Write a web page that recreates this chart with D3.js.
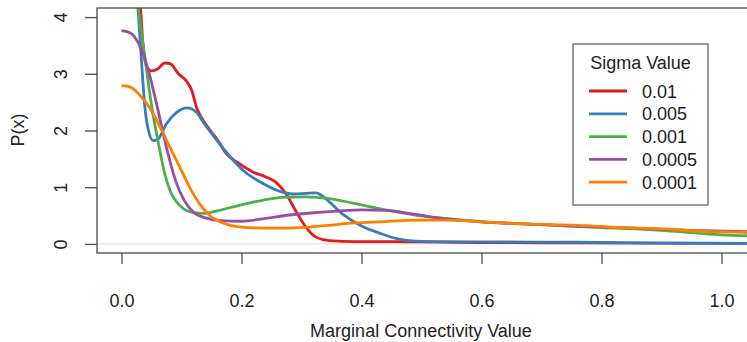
<!DOCTYPE html>
<html>
<head>
<meta charset="utf-8">
<script src="https://cdn.jsdelivr.net/npm/d3@7"></script>
<style>
  body { margin: 0; background: #fff; }
  svg { display: block; font-family: "Liberation Sans", Arial, Helvetica, sans-serif; }
</style>
</head>
<body>
<div id="chart"></div>
<script>
// density estimates of marginal connectivity, one curve per sigma value
const sigmaLabels = ["0.01", "0.005", "0.001", "0.0005", "0.0001"];
const sigmaColors = ["#E41A1C", "#377EB8", "#4DAF4A", "#984EA3", "#FF7F00"];

const sigma01 = [[0, 6.0], [0.03, 4.4], [0.036, 3.5], [0.042, 3.12], [0.05, 3.05], [0.061, 3.09],
  [0.072, 3.19], [0.081, 3.18], [0.095, 3.0], [0.109, 2.86], [0.117, 2.71], [0.125, 2.41],
  [0.131, 2.27], [0.148, 2.0], [0.161, 1.82], [0.174, 1.6], [0.196, 1.42], [0.219, 1.27],
  [0.241, 1.18], [0.257, 1.09], [0.274, 0.89], [0.29, 0.59], [0.307, 0.3], [0.324, 0.12],
  [0.346, 0.06], [0.39, 0.04], [0.45, 0.04], [0.5, 0.035], [0.6, 0.025], [0.75, 0.02], [1.06, 0.01]];

const sigma005 = [[0, 6.5], [0.026, 4.4], [0.034, 3.12], [0.039, 2.41], [0.045, 2.0], [0.053, 1.82],
  [0.061, 1.85], [0.075, 2.12], [0.092, 2.32], [0.109, 2.4], [0.125, 2.32], [0.136, 2.15],
  [0.158, 1.84], [0.18, 1.55], [0.208, 1.25], [0.235, 1.07], [0.263, 0.93], [0.285, 0.88],
  [0.307, 0.89], [0.324, 0.9], [0.34, 0.8], [0.368, 0.53], [0.401, 0.31], [0.43, 0.19],
  [0.46, 0.09], [0.49, 0.05], [0.6, 0.035], [0.76, 0.03], [0.9, 0.015], [1.06, 0.01]];

const sigma001 = [[0, 7.0], [0.02, 5.3], [0.028, 4.2], [0.039, 3.3], [0.05, 2.45], [0.062, 1.75],
  [0.073, 1.2], [0.083, 0.89], [0.097, 0.68], [0.113, 0.57], [0.136, 0.54], [0.158, 0.58],
  [0.196, 0.68], [0.235, 0.77], [0.268, 0.82], [0.307, 0.83], [0.346, 0.8], [0.39, 0.71],
  [0.445, 0.59], [0.495, 0.5], [0.55, 0.44], [0.6, 0.39], [0.7, 0.34], [0.8, 0.29],
  [0.9, 0.24], [0.96, 0.19], [1.0, 0.16], [1.06, 0.14]];

const sigma0005 = [[0, 3.76], [0.015, 3.72], [0.03, 3.5], [0.045, 3.05], [0.06, 2.4], [0.075, 1.7],
  [0.09, 1.12], [0.105, 0.76], [0.12, 0.56], [0.14, 0.46], [0.165, 0.41], [0.2, 0.4],
  [0.24, 0.45], [0.28, 0.51], [0.32, 0.55], [0.36, 0.58], [0.4, 0.6], [0.44, 0.59],
  [0.49, 0.52], [0.54, 0.44], [0.6, 0.39], [0.68, 0.35], [0.76, 0.31], [0.85, 0.28],
  [0.95, 0.24], [1.06, 0.21]];

const sigma0001 = [[0, 2.79], [0.014, 2.77], [0.03, 2.63], [0.047, 2.4], [0.064, 2.07], [0.08, 1.72],
  [0.097, 1.36], [0.113, 1.01], [0.13, 0.71], [0.147, 0.5], [0.169, 0.37], [0.196, 0.3],
  [0.235, 0.28], [0.28, 0.28], [0.335, 0.32], [0.39, 0.37], [0.43, 0.39], [0.5, 0.42],
  [0.54, 0.42], [0.6, 0.39], [0.68, 0.35], [0.75, 0.33], [0.83, 0.29], [0.91, 0.26],
  [0.97, 0.22], [1.06, 0.2]];

const curves = [sigma01, sigma005, sigma001, sigma0005, sigma0001];
const xTicks = [0, 0.2, 0.4, 0.6, 0.8, 1.0];
const yTicks = [0, 1, 2, 3, 4];

const width = 747, height = 342;
const box = { left: 97, right: 758, top: 8, bottom: 253 };

const svg = d3.select('#chart').append('svg')
  .attr('width', width)
  .attr('height', height);

const x = d3.scaleLinear().domain([-0.0408, 1.0608]).range([box.left, box.right]);
const y = d3.scaleLinear().domain([-0.16, 4.16]).range([box.bottom, box.top]);

svg.append('clipPath').attr('id', 'plot-clip')
  .append('rect')
  .attr('x', box.left).attr('y', box.top)
  .attr('width', box.right - box.left).attr('height', box.bottom - box.top);

// light zero line
svg.append('line')
  .attr('x1', box.left).attr('x2', box.right)
  .attr('y1', y(0)).attr('y2', y(0))
  .attr('stroke', '#e2e2e2').attr('stroke-width', 1.2);

const line = d3.line()
  .x(d => x(d[0]))
  .y(d => y(d[1]))
  .curve(d3.curveMonotoneX);

svg.append('g')
  .attr('clip-path', 'url(#plot-clip)')
  .selectAll('path')
  .data(curves)
  .enter().append('path')
  .attr('d', line)
  .attr('fill', 'none')
  .attr('stroke', (d, i) => sigmaColors[i])
  .attr('stroke-width', 2.8)
  .attr('stroke-linejoin', 'round');

// box
svg.append('rect')
  .attr('x', box.left).attr('y', box.top)
  .attr('width', box.right - box.left).attr('height', box.bottom - box.top)
  .attr('fill', 'none').attr('stroke', '#4a4a4a').attr('stroke-width', 1.3);

// x axis
const xAxis = d3.axisBottom(x).tickValues(xTicks).tickSize(11).tickPadding(30)
  .tickFormat(d3.format('.1f'));
const gx = svg.append('g').attr('transform', 'translate(0,' + box.bottom + ')').call(xAxis);
gx.select('.domain').remove();
gx.selectAll('line').attr('stroke', '#4a4a4a').attr('stroke-width', 1.3);
gx.selectAll('text').attr('font-size', 18).attr('fill', '#222').attr('font-family', null);

// y axis, labels parallel to the axis
const yAxis = d3.axisLeft(y).tickValues(yTicks).tickSize(12).tickFormat(d3.format('d'));
const gy = svg.append('g').attr('transform', 'translate(' + box.left + ',0)').call(yAxis);
gy.select('.domain').remove();
gy.selectAll('line').attr('stroke', '#4a4a4a').attr('stroke-width', 1.3);
gy.selectAll('text')
  .attr('x', null).attr('dy', null)
  .attr('font-size', 18).attr('fill', '#222').attr('font-family', null)
  .attr('text-anchor', 'middle')
  .attr('transform', 'translate(-30,0) rotate(-90)');

// axis titles
svg.append('text')
  .attr('x', 421).attr('y', 337)
  .attr('text-anchor', 'middle')
  .attr('font-size', 18).attr('fill', '#222')
  .text('Marginal Connectivity Value');

svg.append('text')
  .attr('transform', 'translate(24,130) rotate(-90)')
  .attr('text-anchor', 'middle')
  .attr('font-size', 18).attr('fill', '#222')
  .text('P(x)');

// legend
const legend = svg.append('g').attr('class', 'legend');
legend.append('rect')
  .attr('x', 573).attr('y', 44).attr('width', 135).attr('height', 161)
  .attr('fill', '#fff').attr('stroke', '#666').attr('stroke-width', 1.3);
legend.append('text')
  .attr('x', 640.5).attr('y', 69)
  .attr('text-anchor', 'middle')
  .attr('font-size', 18).attr('fill', '#222')
  .text('Sigma Value');

const item = legend.selectAll('g.item')
  .data(sigmaLabels)
  .enter().append('g')
  .attr('class', 'item')
  .attr('transform', (d, i) => 'translate(0,' + (91 + i * 22.8) + ')');
item.append('line')
  .attr('x1', 589).attr('x2', 627)
  .attr('stroke', (d, i) => sigmaColors[i])
  .attr('stroke-width', 2.8);
item.append('text')
  .attr('x', 642).attr('y', 6.5)
  .attr('font-size', 18).attr('fill', '#222')
  .text(d => d);
</script>
</body>
</html>
